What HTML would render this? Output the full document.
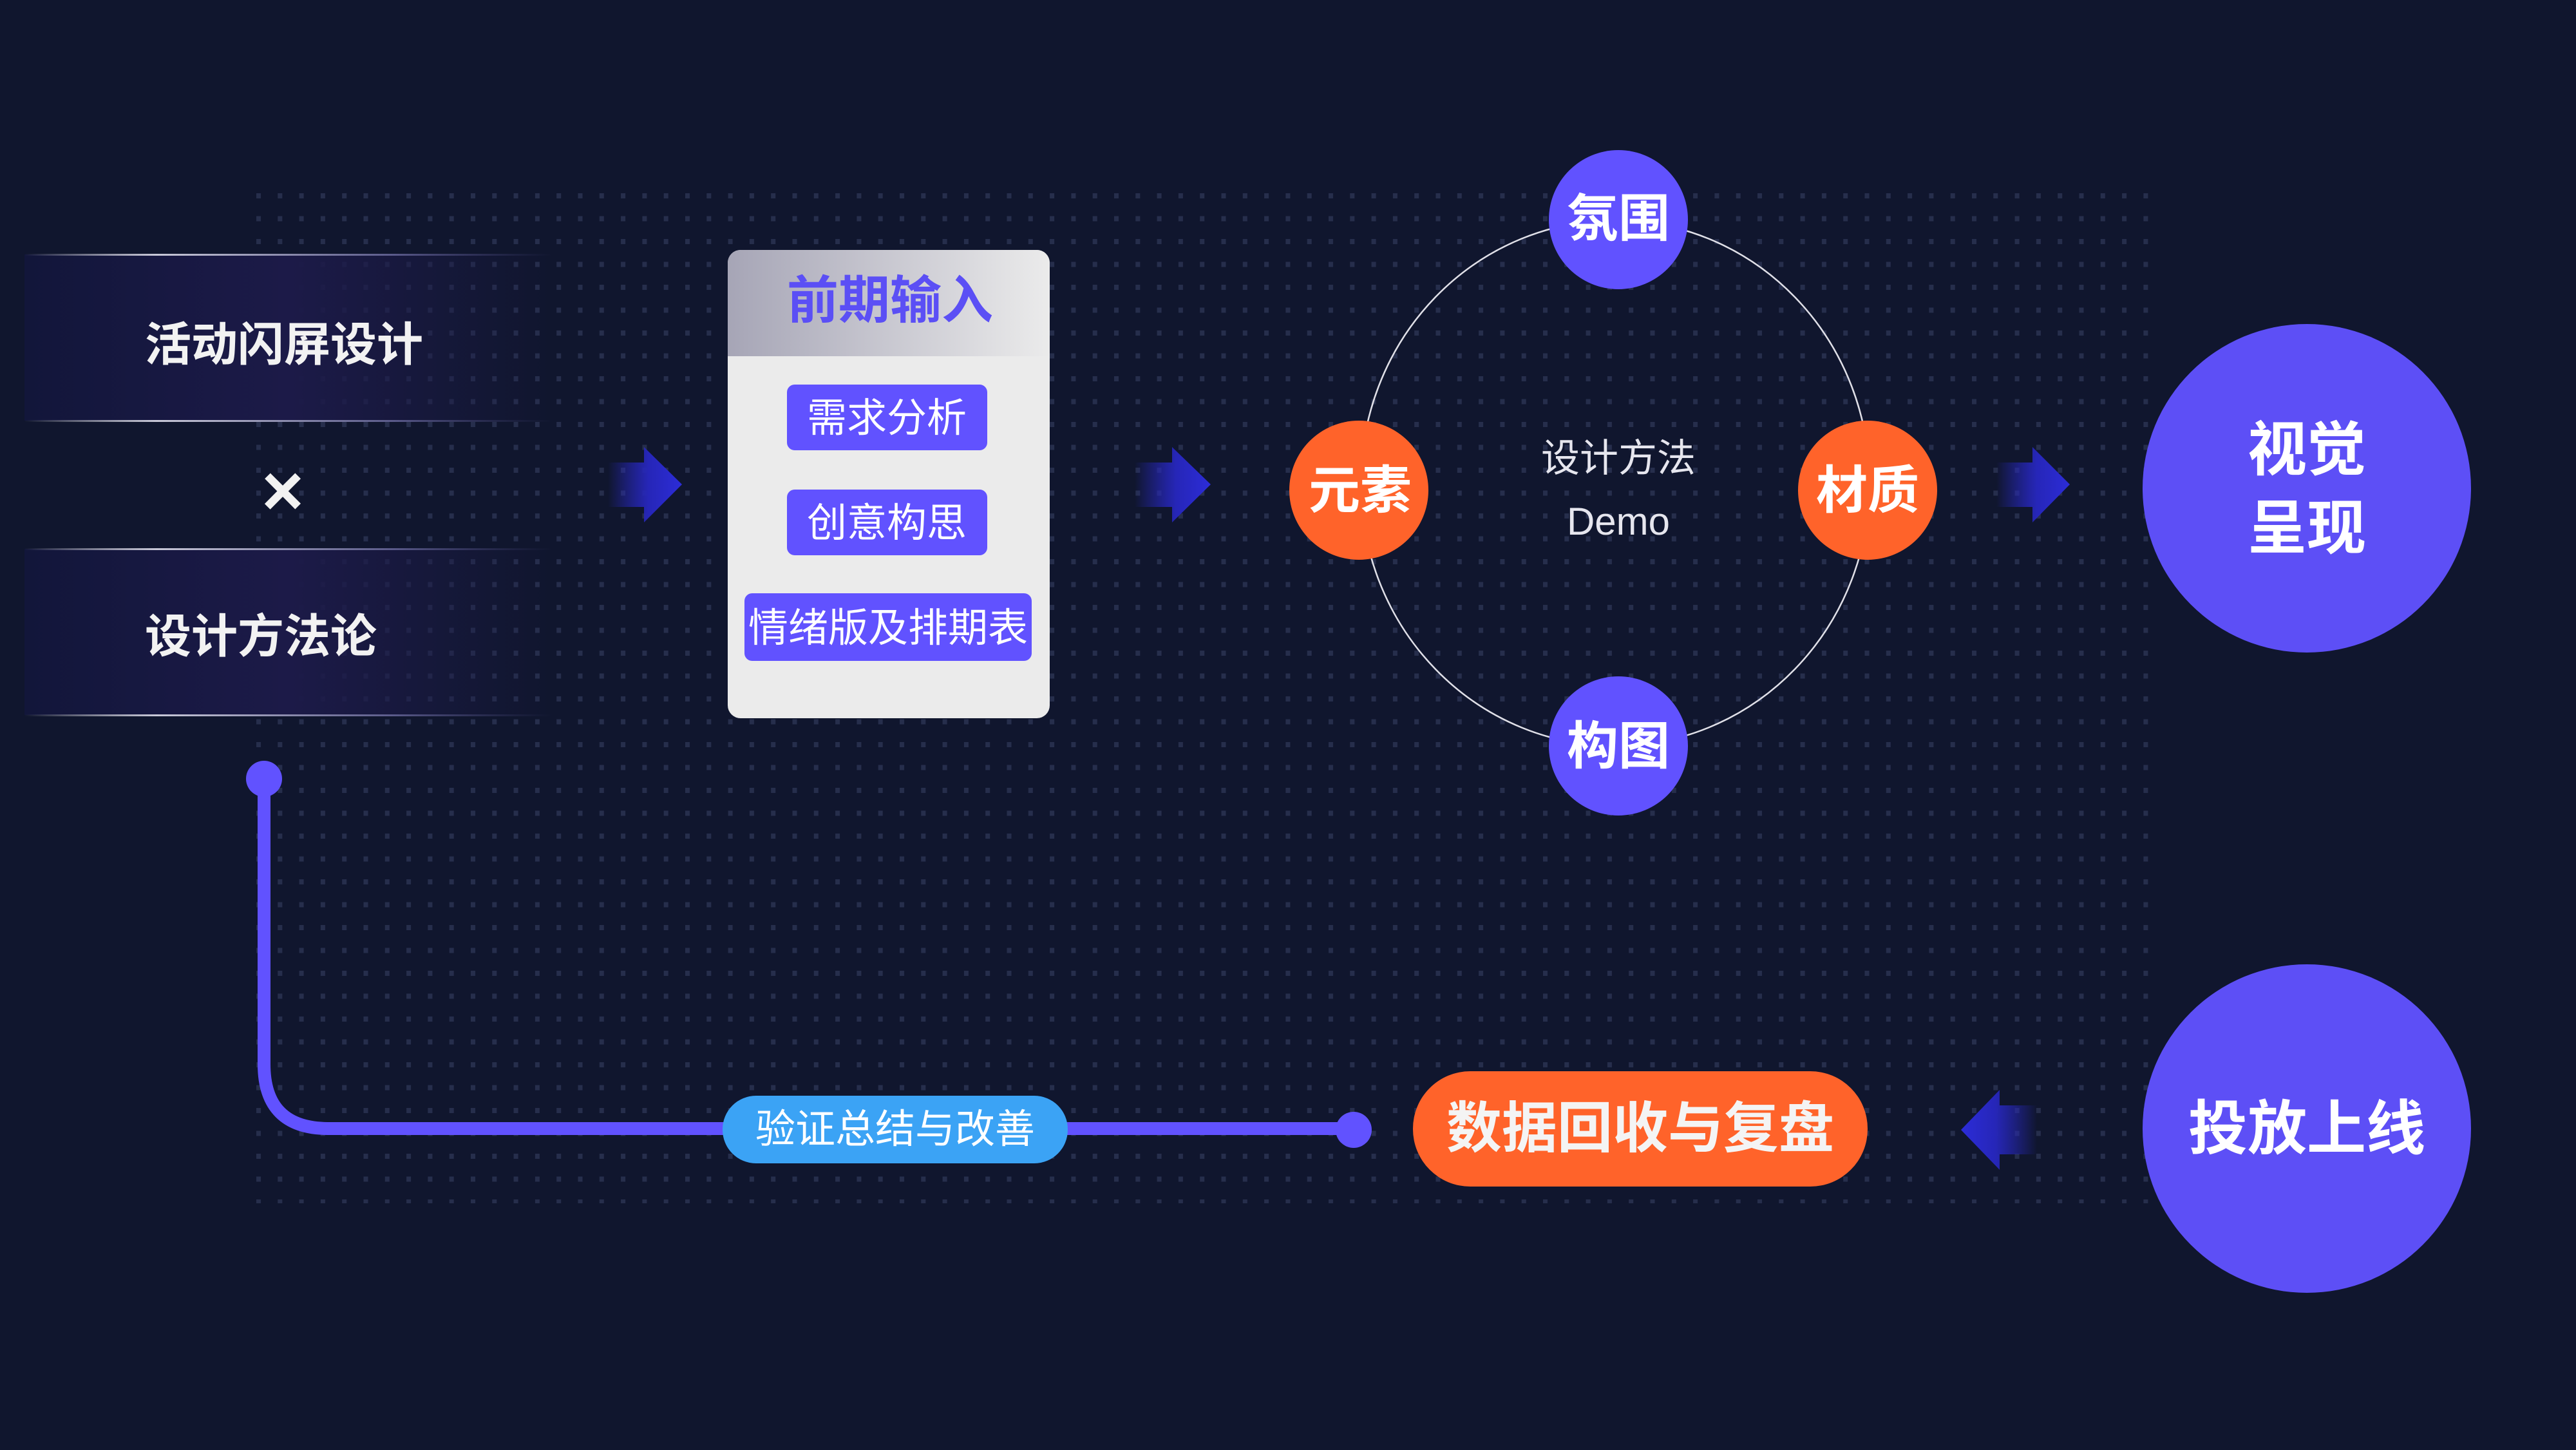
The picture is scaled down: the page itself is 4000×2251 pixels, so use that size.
<!DOCTYPE html>
<html><head><meta charset="utf-8"><style>
html,body{margin:0;padding:0;background:#10162e;}
svg{display:block}
text{font-family:"Liberation Sans","Noto Sans CJK SC",sans-serif;}
</style></head><body>
<svg width="4000" height="2251" viewBox="0 0 4000 2251" xmlns="http://www.w3.org/2000/svg">
<defs>
<pattern id="dots" x="398" y="300" width="33.3" height="35.5" patternUnits="userSpaceOnUse">
<rect x="0" y="0" width="7" height="8" fill="#262e4c"/>
</pattern>
<linearGradient id="band" x1="0" x2="1" y1="0" y2="0">
<stop offset="0" stop-color="#12163a"/><stop offset="0.5" stop-color="#1c1a48"/><stop offset="1" stop-color="#1c1a48" stop-opacity="0"/>
</linearGradient>
<linearGradient id="line" x1="0" x2="1" y1="0" y2="0">
<stop offset="0" stop-color="#ffffff" stop-opacity="0"/><stop offset="0.25" stop-color="#c8c8d8"/><stop offset="0.7" stop-color="#5a5a8a"/><stop offset="1" stop-color="#3a3a6a" stop-opacity="0"/>
</linearGradient>
<linearGradient id="hdr" x1="0" x2="1" y1="0" y2="0">
<stop offset="0" stop-color="#a6a5b6"/><stop offset="1" stop-color="#ebebeb"/>
</linearGradient>
<linearGradient id="arr" x1="0" x2="1" y1="0" y2="0">
<stop offset="0" stop-color="#2a2ad0" stop-opacity="0"/><stop offset="0.55" stop-color="#2626b8"/><stop offset="1" stop-color="#2c2cd8"/>
</linearGradient>
<linearGradient id="arrL" x1="1" x2="0" y1="0" y2="0">
<stop offset="0" stop-color="#2a2ad0" stop-opacity="0"/><stop offset="0.55" stop-color="#2626b8"/><stop offset="1" stop-color="#2c2cd8"/>
</linearGradient>
</defs>
<rect width="4000" height="2251" fill="#10162e"/>
<rect x="395" y="298" width="2950" height="1570" fill="url(#dots)"/>

<rect x="38" y="395" width="820" height="258" fill="url(#band)"/>
<rect x="38" y="852" width="820" height="258" fill="url(#band)"/>
<rect x="38" y="394" width="820" height="3" fill="url(#line)"/>
<rect x="38" y="652" width="820" height="3" fill="url(#line)"/>
<rect x="38" y="851" width="820" height="3" fill="url(#line)"/>
<rect x="38" y="1109" width="820" height="3" fill="url(#line)"/>
<text x="225" y="560" font-size="72" font-weight="bold" fill="#f2f2f2">活动闪屏设计</text>
<text x="439" y="800" font-size="112" font-weight="bold" fill="#f2f2f2" text-anchor="middle">×</text>
<text x="225" y="1013" font-size="72" font-weight="bold" fill="#f2f2f2">设计方法论</text>

<path d="M944 718 H1000 V694 L1059 752 L1000 811 V787 H944 Z" fill="url(#arr)"/>
<path d="M1762 718 H1820 V694 L1880 752 L1820 811 V787 H1762 Z" fill="url(#arr)"/>
<path d="M3100 718 H3156 V694 L3214 752 L3156 811 V787 H3100 Z" fill="url(#arr)"/>
<path d="M3163 1716 H3105 V1692 L3045 1754 L3105 1816 V1792 H3163 Z" fill="url(#arrL)"/>

<rect x="1130" y="388" width="500" height="727" rx="20" fill="#ebebeb"/>
<path d="M1150 388 H1610 A20 20 0 0 1 1630 408 V553 H1130 V408 A20 20 0 0 1 1150 388 Z" fill="url(#hdr)"/>
<text x="1382" y="494" font-size="80" font-weight="bold" fill="#5b4ff5" text-anchor="middle">前期输入</text>
<rect x="1222" y="597" width="311" height="102" rx="12" fill="#6152ff"/>
<text x="1377" y="670" font-size="62" fill="#fff" text-anchor="middle">需求分析</text>
<rect x="1222" y="760" width="311" height="102" rx="12" fill="#6152ff"/>
<text x="1377" y="833" font-size="62" fill="#fff" text-anchor="middle">创意构思</text>
<rect x="1156" y="921" width="446" height="105" rx="12" fill="#6152ff"/>
<text x="1379" y="996" font-size="62" fill="#fff" text-anchor="middle">情绪版及排期表</text>

<ellipse cx="2508" cy="750" rx="395" ry="408" fill="none" stroke="#e0e0e8" stroke-width="2.5"/>
<text x="2513" y="732" font-size="60" fill="#e6e6ee" text-anchor="middle">设计方法</text>
<text x="2513" y="830" font-size="60" fill="#e6e6ee" text-anchor="middle">Demo</text>
<circle cx="2513" cy="341" r="108" fill="#6152ff"/>
<text x="2513" y="367" font-size="80" font-weight="bold" fill="#fff" text-anchor="middle">氛围</text>
<circle cx="2513" cy="1158" r="108" fill="#6152ff"/>
<text x="2513" y="1186" font-size="80" font-weight="bold" fill="#fff" text-anchor="middle">构图</text>
<circle cx="2110" cy="761" r="108" fill="#ff632a"/>
<text x="2112" y="789" font-size="80" font-weight="bold" fill="#fff" text-anchor="middle">元素</text>
<circle cx="2900" cy="761" r="108" fill="#ff632a"/>
<text x="2900" y="789" font-size="80" font-weight="bold" fill="#fff" text-anchor="middle">材质</text>

<circle cx="3582" cy="758" r="255" fill="#5d4ff6"/>
<text x="3582" y="730" font-size="92" font-weight="bold" fill="#fff" text-anchor="middle">视觉</text>
<text x="3582" y="852" font-size="92" font-weight="bold" fill="#fff" text-anchor="middle">呈现</text>
<circle cx="3582" cy="1752" r="255" fill="#5d4ff6"/>
<text x="3582" y="1784" font-size="92" font-weight="bold" fill="#fff" text-anchor="middle">投放上线</text>

<path d="M410 1209 V1652 Q410 1752 510 1752 H2102" fill="none" stroke="#6152ff" stroke-width="20"/>
<circle cx="410" cy="1209" r="28" fill="#6152ff"/>
<circle cx="2102" cy="1754" r="28" fill="#6152ff"/>
<rect x="1122" y="1701" width="536" height="105" rx="52" fill="#3ba3f5"/>
<text x="1390" y="1774" font-size="62" fill="#fff" text-anchor="middle">验证总结与改善</text>
<rect x="2194" y="1663" width="706" height="179" rx="89" fill="#ff632a"/>
<text x="2547" y="1781" font-size="86" font-weight="bold" fill="#f4f4f4" text-anchor="middle">数据回收与复盘</text>
</svg>
</body></html>
